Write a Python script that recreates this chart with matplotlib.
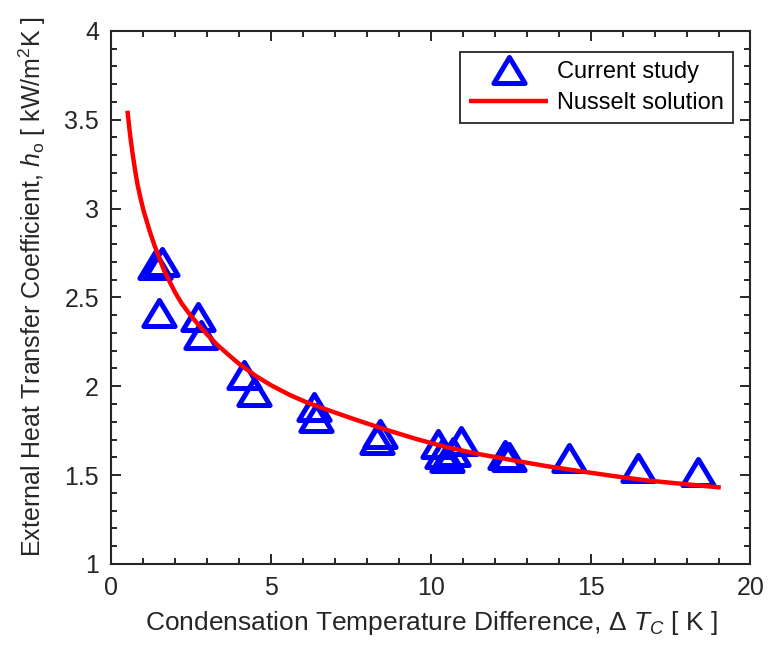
import matplotlib
matplotlib.use("Agg")
import matplotlib.pyplot as plt
from matplotlib.ticker import MultipleLocator
from matplotlib.path import Path
from matplotlib.markers import MarkerStyle

plt.rcParams['font.family'] = ['Liberation Sans', 'DejaVu Sans']
plt.rcParams['mathtext.fontset'] = 'custom'
plt.rcParams['mathtext.rm'] = 'Liberation Sans'
plt.rcParams['mathtext.it'] = 'Liberation Sans:italic'

# Data
study_dT = [1.37, 1.59, 1.50, 2.71, 2.81, 4.16, 4.45, 6.35, 6.40, 8.40, 8.30,
            10.23, 10.35, 10.49, 10.95, 10.70, 12.32, 12.45, 14.33, 16.49, 18.37]
study_h = [2.68, 2.70, 2.41, 2.39, 2.29, 2.065, 1.97, 1.884, 1.82, 1.731, 1.70,
           1.677, 1.62, 1.596, 1.69, 1.63, 1.615, 1.60, 1.598, 1.539, 1.516]

nusselt_dT = [0.50, 0.55, 0.60, 0.66, 0.73, 0.81, 0.90, 1.00, 1.10, 1.20, 1.35,
              1.50, 1.65, 1.83, 2.00, 2.20, 2.45, 2.70, 3.00, 3.30, 3.61, 4.00,
              4.54, 5.00, 5.59, 6.10, 6.63, 7.67, 8.72, 9.60, 10.49, 11.50,
              12.58, 13.60, 14.66, 15.70, 16.75, 17.90, 19.07]
nusselt_h = [3.55, 3.465, 3.39, 3.31, 3.225, 3.14, 3.065, 2.99, 2.93, 2.87, 2.79,
             2.72, 2.65, 2.585, 2.525, 2.465, 2.405, 2.35, 2.29, 2.235, 2.185, 2.125,
             2.055, 2.005, 1.95, 1.91, 1.875, 1.81, 1.748, 1.70, 1.657, 1.618,
             1.583, 1.551, 1.522, 1.495, 1.47, 1.45, 1.43]

xticks = [0, 5, 10, 15, 20]
yticks = [1, 1.5, 2, 2.5, 3, 3.5, 4]
ytick_labels = ['1', '1.5', '2', '2.5', '3', '3.5', '4']

txt = '#262626'
fig = plt.figure(figsize=(7.71, 6.55), dpi=100)
ax = fig.add_axes([0.1446, 0.139, 0.8288, 0.814])

tri_path = Path([(0, 1), (-1.2, -1), (1.2, -1), (0, 1)],
                [Path.MOVETO, Path.LINETO, Path.LINETO, Path.CLOSEPOLY])
tri = MarkerStyle(tri_path, joinstyle='miter')
ax.plot(study_dT, study_h, linestyle='none', marker=tri, markersize=22.5,
        markerfacecolor='none', markeredgecolor='#0000ff', markeredgewidth=3.6,
        label='Current study', zorder=3)
ax.plot(nusselt_dT, nusselt_h, color='#ff0000', linewidth=3.2,
        label='Nusselt solution', zorder=4, solid_capstyle='butt')

ax.set_xlim(0, 20)
ax.set_ylim(1, 4)
ax.set_xticks(xticks)
ax.set_xticklabels([str(t) for t in xticks])
ax.set_yticks(yticks)
ax.set_yticklabels(ytick_labels)
ax.xaxis.set_minor_locator(MultipleLocator(1))
ax.yaxis.set_minor_locator(MultipleLocator(0.1))
ax.tick_params(which='both', direction='in', top=True, right=True, colors=txt,
               labelcolor=txt, labelsize=18)
ax.tick_params(which='major', length=7, width=1.4, pad=9)
ax.tick_params(which='minor', length=4, width=1.4)
for s in ax.spines.values():
    s.set_linewidth(1.5)
    s.set_color(txt)

ax.set_xlabel('Condensation Temperature Difference, Δ $T_C$ [ K ]', fontsize=19,
              color=txt, labelpad=6)
ax.set_ylabel('External Heat Transfer Coefficient, $h_\\mathrm{o}$ [ kW/m$^2$K ]',
              fontsize=18, color=txt)
ax.yaxis.set_label_coords(-0.10, 0.52)

leg = ax.legend(loc='upper right', bbox_to_anchor=(0.9726, 0.961), borderaxespad=0,
                fontsize=17, handlelength=3.35, handletextpad=0.35, labelspacing=0.38,
                borderpad=0.4, fancybox=False, framealpha=1, edgecolor=txt)
leg.get_frame().set_linewidth(1.3)

fig.savefig('out.png', dpi=100)
